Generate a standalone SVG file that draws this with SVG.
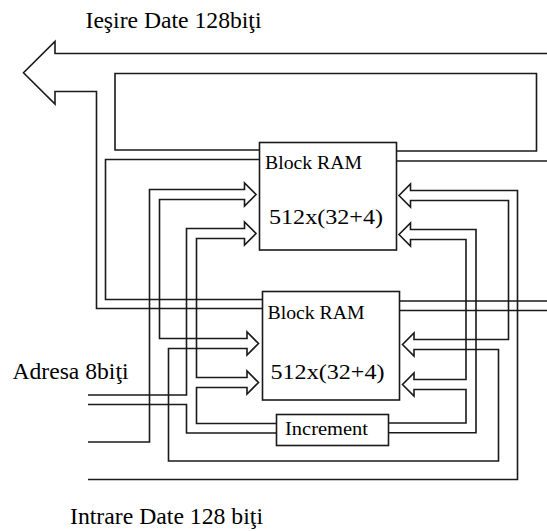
<svg xmlns="http://www.w3.org/2000/svg" width="547" height="531" viewBox="0 0 547 531">
<style>
  .ln { fill: none; stroke: #1a1a1a; stroke-width: 1.6; stroke-linejoin: miter; }
  .box { fill: #ffffff; stroke: #1a1a1a; stroke-width: 1.6; }
  text { font-family: 'Liberation Serif', 'Noto Serif', 'DejaVu Serif', 'Times New Roman', serif; fill: #000; }
  .big { font-size: 23px; }
  .blk { font-size: 18px; }
  .sz { font-size: 22px; }
</style>
<rect x="0" y="0" width="547" height="531" fill="#ffffff"/>
<g id="connectors">
  <path class="ln" d="M547,53.5 H55 V41.5 L23.5,72.7 L55,104 V91.5 H96.5 V308.5 H262.5"/>
  <path class="ln" d="M259.5,150 H115 V73.5 H536.5 V151 H396.5"/>
  <path class="ln" d="M259.5,159.5 H105.5 V299.5 H262.5"/>
  <path class="ln" d="M396.5,161 H547"/>
  <path class="ln" d="M399.5,301 H547"/>
  <path class="ln" d="M399.5,310.5 H547"/>
  <path class="ln" d="M88,442 H149.5 V189.5 H244.5 V183 L256,194.5 L244.5,206 V199.5 H159.5 V338.5 H247 V332 L258.5,343.5 L247,355 V348.5 H168.5 V461 H498.5 V349.5 H414 V356 L402.5,344.5 L414,333 V339.5 H508.5 V200.5 H410.5 V207 L399,195.5 L410.5,184 V190.5 H517.5 V479.5 H88"/>
  <path class="ln" d="M88,395 H186.5 V228.5 H244.5 V222 L256,233.5 L244.5,245 V238.5 H196.5 V377.5 H247 V371 L258.5,382.5 L247,394 V387.5 H196.5 V423.5 H276.5"/>
  <path class="ln" d="M88,404.5 H186.5 V433 H276.5"/>
  <path class="ln" d="M388.5,423 H466 V389.5 H414 V396 L402.5,384.5 L414,373 V379.5 H466 V239.5 H410.5 V246 L399,234.5 L410.5,223 V229.5 H476 V432.7 H388.5"/>
</g>
<g id="ram1">
  <rect class="box" x="259.5" y="142.5" width="137" height="107.5"/>
  <text class="blk" x="265" y="169" textLength="97" lengthAdjust="spacingAndGlyphs">Block RAM</text>
  <text class="sz" x="269" y="224" textLength="114" lengthAdjust="spacingAndGlyphs">512x(32+4)</text>
</g>
<g id="ram2">
  <rect class="box" x="262.5" y="291.5" width="137" height="108.5"/>
  <text class="blk" x="267.5" y="318.5" textLength="97" lengthAdjust="spacingAndGlyphs">Block RAM</text>
  <text class="sz" x="270.5" y="379" textLength="114" lengthAdjust="spacingAndGlyphs">512x(32+4)</text>
</g>
<g id="increment">
  <rect class="box" x="276.5" y="414.5" width="112" height="31"/>
  <text class="blk" x="285" y="435" textLength="83" lengthAdjust="spacingAndGlyphs">Increment</text>
</g>
<g id="labels">
  <text class="big" x="85.5" y="28" textLength="176" lengthAdjust="spacingAndGlyphs">Ieşire Date 128biţi</text>
  <text class="big" x="12.5" y="379" textLength="116" lengthAdjust="spacingAndGlyphs">Adresa 8biţi</text>
  <text class="big" x="70" y="524" textLength="193" lengthAdjust="spacingAndGlyphs">Intrare Date 128 biţi</text>
</g>
</svg>
